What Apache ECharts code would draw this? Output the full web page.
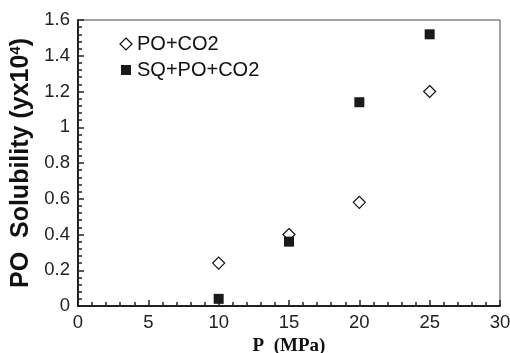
<!DOCTYPE html>
<html>
<head>
<meta charset="utf-8">
<script src="https://cdn.jsdelivr.net/npm/echarts@6/dist/echarts.min.js"></script>
<style>
html, body { margin: 0; padding: 0; background: #fff; }
#chart { width: 510px; height: 353px; }
</style>
</head>
<body>
<div id="chart"></div>
<script>
// pressure (MPa)
var pressure = [10, 15, 20, 25];
// solubility (y x 10^4)
var poCo2 = [0.24, 0.40, 0.58, 1.20];
var sqPoCo2 = [0.04, 0.36, 1.14, 1.52];
var seriesNames = ['PO+CO2', 'SQ+PO+CO2'];

function pairs(xs, ys) {
	return xs.map(function (x, i) { return [x, ys[i]]; });
}

var myChart = echarts.init(document.getElementById('chart'));
var font = 'Liberation Sans, Arial, sans-serif';

var option = {
	animation: false,
	backgroundColor: '#fff',
	grid: {
		left: 78,
		right: 10,
		top: 20,
		bottom: 47,
		containLabel: false,
		outerBoundsMode: 'none',
		show: true,
		borderColor: '#444',
		borderWidth: 1
	},
	legend: {
		orient: 'vertical',
		left: 114,
		top: 29,
		itemGap: 6,
		itemWidth: 12,
		itemHeight: 12,
		textStyle: { fontFamily: font, fontSize: 20, lineHeight: 19, color: '#111' },
		data: [
			{ name: seriesNames[0], icon: 'diamond', itemStyle: { color: '#fff', borderColor: '#111', borderWidth: 1.2 } },
			{ name: seriesNames[1], icon: 'rect', itemStyle: { color: '#1a1a1a', borderColor: '#fff', borderWidth: 2 } }
		]
	},
	xAxis: {
		type: 'value',
		min: 0,
		max: 30,
		interval: 5,
		name: 'P  (MPa)',
		nameLocation: 'middle',
		nameGap: 26,
		nameTextStyle: { fontFamily: 'Liberation Serif, Times New Roman, serif', fontWeight: 'bold', fontSize: 19, color: '#111' },
		axisLine: { lineStyle: { color: '#222', width: 2 } },
		axisTick: { inside: true, length: 6, lineStyle: { color: '#222', width: 1.5 } },
		minorTick: { show: true, splitNumber: 5, length: 4, lineStyle: { color: '#222', width: 1.5 } },
		axisLabel: { fontFamily: font, fontSize: 18.5, color: '#222', margin: 7 },
		splitLine: { show: false }
	},
	yAxis: {
		type: 'value',
		min: 0,
		max: 1.6,
		interval: 0.2,
		name: 'PO  Solubility (yx10{sup|4})',
		nameLocation: 'middle',
		nameGap: 38,
		nameTextStyle: {
			fontFamily: font, fontWeight: 'bold', fontSize: 25, color: '#111',
			rich: { sup: { fontFamily: font, fontWeight: 'bold', fontSize: 15, color: '#111', verticalAlign: 'top', padding: [0, 0, 10, 0] } }
		},
		axisLine: { show: true, lineStyle: { color: '#222', width: 2 } },
		axisTick: { show: true, inside: true, length: 6, lineStyle: { color: '#222', width: 1.5 } },
		minorTick: { show: true, splitNumber: 5, length: 4, lineStyle: { color: '#222', width: 1.5 } },
		axisLabel: {
			fontFamily: font, fontSize: 18.5, color: '#222', margin: 8,
			formatter: function (v) { return String(Math.round(v * 10) / 10); }
		},
		splitLine: { show: false }
	},
	series: [
		{
			name: seriesNames[0],
			type: 'scatter',
			symbol: 'diamond',
			symbolSize: 12,
			itemStyle: { color: '#fff', borderColor: '#111', borderWidth: 1.2, opacity: 1 },
			data: pairs(pressure, poCo2)
		},
		{
			name: seriesNames[1],
			type: 'scatter',
			symbol: 'rect',
			symbolSize: 10,
			itemStyle: { color: '#1a1a1a', opacity: 1 },
			data: pairs(pressure, sqPoCo2)
		}
	]
};

myChart.setOption(option);
window.addEventListener('resize', function () {
	myChart.resize();
});
</script>
</body>
</html>
